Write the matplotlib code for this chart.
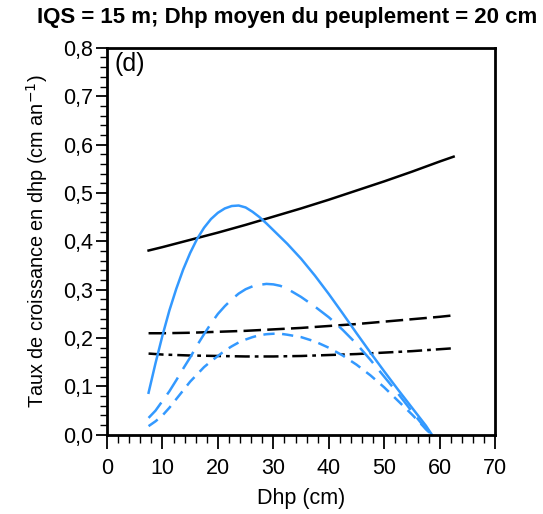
import numpy as np
import matplotlib
matplotlib.use("Agg")
import matplotlib.pyplot as plt
from matplotlib.ticker import MultipleLocator, FuncFormatter

plt.rcParams['font.family'] = ['Liberation Sans', 'DejaVu Sans']

# black reference curves (observed growth)
dhp_black = [7.5, 10, 15, 20, 25, 30, 35, 40, 45, 50, 55, 60, 62.5]
black_solid = [0.381, 0.388, 0.403, 0.418, 0.434, 0.451, 0.468, 0.486, 0.505, 0.524, 0.544, 0.565, 0.575]
black_dash = [0.210, 0.210, 0.211, 0.213, 0.215, 0.218, 0.221, 0.225, 0.229, 0.234, 0.239, 0.244, 0.247]
black_dashdot = [0.168, 0.166, 0.164, 0.163, 0.162, 0.162, 0.163, 0.165, 0.167, 0.170, 0.173, 0.177, 0.179]

# blue model curves
dhp_blue = [7.5, 8.75, 10, 11.25, 12.5, 13.75, 15, 16.25, 17.5, 18.75, 20, 21.25, 22.5, 23.75,
            25, 26.25, 27.5, 28.75, 30, 31.25, 32.5, 35, 37.5, 40, 42.5, 45, 47.5, 50, 52.5, 55, 57.5, 58.6]
blue_solid = [0.087, 0.148, 0.205, 0.257, 0.302, 0.342, 0.376, 0.405, 0.428, 0.446, 0.459, 0.468, 0.473, 0.474,
              0.470, 0.461, 0.450, 0.437, 0.423, 0.409, 0.395, 0.364, 0.329, 0.291, 0.251, 0.210, 0.170, 0.131,
              0.093, 0.056, 0.019, 0.0]
blue_long = [0.035, 0.05, 0.07, 0.09, 0.113, 0.137, 0.16, 0.185, 0.208, 0.23, 0.25, 0.266, 0.28, 0.292,
             0.301, 0.307, 0.31, 0.312, 0.311, 0.308, 0.302, 0.285, 0.265, 0.243, 0.217, 0.188, 0.155, 0.12,
             0.085, 0.048, 0.012, 0.0]
blue_short = [0.018, 0.028, 0.04, 0.056, 0.074, 0.092, 0.11, 0.125, 0.14, 0.152, 0.163, 0.174, 0.183, 0.191,
              0.197, 0.202, 0.206, 0.208, 0.209, 0.209, 0.207, 0.202, 0.193, 0.18, 0.164, 0.145, 0.123, 0.098,
              0.07, 0.042, 0.012, 0.0]

blue = '#3399ff'

fig = plt.figure(figsize=(5.43, 5.14), dpi=100)
ax = fig.add_axes([0.197, 0.154, 0.715, 0.753])

ax.plot(dhp_black, black_solid, color='black', lw=1.8)
ax.plot(dhp_black, black_dash, color='black', lw=1.8, dashes=(7, 2.5))
ax.plot(dhp_black, black_dashdot, color='black', lw=1.8, dashes=(6, 2, 1.5, 2))
ax.plot(dhp_blue, blue_solid, color=blue, lw=1.8)
ax.plot(dhp_blue, blue_long, color=blue, lw=1.8, dashes=(8, 4))
ax.plot(dhp_blue, blue_short, color=blue, lw=1.8, dashes=(4.5, 3))

ax.set_xlim(0, 70)
ax.set_ylim(0, 0.8)
ax.xaxis.set_major_locator(MultipleLocator(10))
ax.xaxis.set_minor_locator(MultipleLocator(2))
ax.yaxis.set_major_locator(MultipleLocator(0.1))
ax.yaxis.set_minor_locator(MultipleLocator(0.02))
ax.yaxis.set_major_formatter(FuncFormatter(lambda v, p: f"{v:.1f}".replace('.', ',')))

for s in ax.spines.values():
    s.set_linewidth(2)
ax.tick_params(axis='x', which='major', direction='out', length=10, width=1.3, labelsize=15.5, pad=7)
ax.tick_params(axis='x', which='minor', direction='out', length=6, width=1.0)
ax.tick_params(axis='y', which='major', direction='out', length=8, width=1.3, labelsize=15.5, pad=2)
ax.tick_params(axis='y', which='minor', direction='out', length=5, width=1.0)
ax.tick_params(top=False, right=False)

ax.set_xlabel('Dhp (cm)', fontsize=15.5, labelpad=6)
ax.set_ylabel('Taux de croissance en dhp (cm an$^{-1}$)', fontsize=14.3, labelpad=9)
ax.text(0.02, 0.99, '(d)', transform=ax.transAxes, fontsize=18, va='top', ha='left')

fig.text(0.529, 0.965, 'IQS = 15 m; Dhp moyen du peuplement = 20 cm', fontsize=16,
         fontweight='bold', ha='center', va='center')

fig.savefig('out.png', dpi=100)
